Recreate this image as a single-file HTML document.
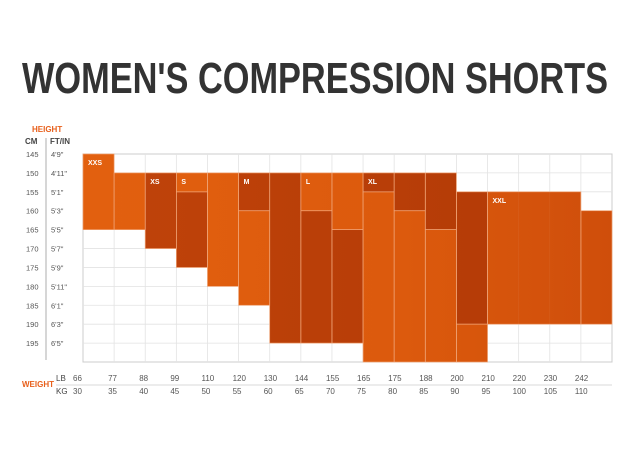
<!DOCTYPE html>
<html><head><meta charset="utf-8"><style>
html,body{margin:0;padding:0;background:#fff;width:640px;height:454px;overflow:hidden}
svg{display:block;font-family:"Liberation Sans",sans-serif}
</style></head><body>
<svg id="chart" width="640" height="454" viewBox="0 0 640 454">
<defs>
<linearGradient id="gO" gradientUnits="userSpaceOnUse" x1="83" y1="0" x2="612" y2="0"><stop offset="0" stop-color="#e2600f"/><stop offset="0.6" stop-color="#dc5a0d"/><stop offset="1" stop-color="#cf4e0b"/></linearGradient>
<linearGradient id="gD" gradientUnits="userSpaceOnUse" x1="83" y1="0" x2="612" y2="0"><stop offset="0" stop-color="#c0430a"/><stop offset="1" stop-color="#b23a06"/></linearGradient>
</defs>
<text x="22" y="93" font-size="44" font-weight="bold" fill="#333" textLength="586" lengthAdjust="spacingAndGlyphs">WOMEN'S COMPRESSION SHORTS</text>
<text x="32" y="132" font-size="8" font-weight="bold" fill="#e8601c">HEIGHT</text>
<text x="25" y="144" font-size="8" font-weight="bold" fill="#444">CM</text>
<text x="50" y="144" font-size="8" font-weight="bold" fill="#444">FT/IN</text>
<line x1="46" y1="138" x2="46" y2="360" stroke="#999" stroke-width="0.8"/>
<text x="22" y="387" font-size="8" font-weight="bold" fill="#e8601c">WEIGHT</text>
<text x="56" y="381" font-size="8" fill="#444">LB</text>
<text x="56" y="394" font-size="8" fill="#444">KG</text>
<line x1="56" y1="385" x2="612" y2="385" stroke="#ccc" stroke-width="0.8"/>
<g id="grid"></g><g id="blocks"></g><g id="cells"></g><g id="labels"></g>
</svg>
<script>
const cmLabels=["145","150","155","160","165","170","175","180","185","190","195"];
const ftLabels=["4'9\"","4'11\"","5'1\"","5'3\"","5'5\"","5'7\"","5'9\"","5'11\"","6'1\"","6'3\"","6'5\""];
const lbLabels=["66","77","88","99","110","120","130","144","155","165","175","188","200","210","220","230","242"];
const kgLabels=["30","35","40","45","50","55","60","65","70","75","80","85","90","95","100","105","110"];
const sizeNames=["XXS","XS","S","M","L","XL","XXL"];
const sizeShades=["O","D","O","D","O","D","O"];
// rects per size: [colStart, colEnd, rowStart, rowEnd]
const sizeXXS=[[0,1,0,4],[1,2,1,4]];
const sizeXS=[[2,3,1,5],[3,4,2,6]];
const sizeS=[[3,4,1,2],[4,5,1,7],[5,6,3,8]];
const sizeM=[[5,6,1,3],[6,7,1,10],[7,8,3,10],[8,9,4,10]];
const sizeL=[[7,8,1,3],[8,9,1,4],[9,10,2,11],[10,11,3,11],[11,12,4,11],[12,13,9,11]];
const sizeXL=[[9,10,1,2],[10,11,1,3],[11,12,1,4],[12,13,2,9]];
const sizeXXL=[[13,16,2,9],[16,17,3,9]];
const sizeRects=[sizeXXS,sizeXS,sizeS,sizeM,sizeL,sizeXL,sizeXXL];
const NS="http://www.w3.org/2000/svg";
const X0=83,X1=612,Y0=154,Y1=362;
const nC=lbLabels.length,nR=cmLabels.length;
const cx=i=>X0+i*(X1-X0)/nC, ry=i=>Y0+i*(Y1-Y0)/nR;
function mk(t,a,p){const e=document.createElementNS(NS,t);for(const k in a)e.setAttribute(k,a[k]);p.appendChild(e);return e;}
const grid=document.getElementById('grid'),blocks=document.getElementById('blocks'),cells=document.getElementById('cells'),labels=document.getElementById('labels');
mk('rect',{x:X0,y:Y0,width:X1-X0,height:Y1-Y0,fill:'#fff',stroke:'#ccc','stroke-width':1},grid);
for(let i=1;i<nC;i++)mk('line',{x1:cx(i),y1:Y0,x2:cx(i),y2:Y1,stroke:'#e2e2e2','stroke-width':0.8},grid);
for(let i=1;i<nR;i++)mk('line',{x1:X0,y1:ry(i),x2:X1,y2:ry(i),stroke:'#e2e2e2','stroke-width':0.8},grid);
sizeRects.forEach((rs,s)=>{
  rs.forEach(r=>{
    const e=mk('rect',{x:cx(r[0]),y:ry(r[2]),width:cx(r[1])-cx(r[0]),height:ry(r[3])-ry(r[2]),fill:'url(#g'+sizeShades[s]+')'},blocks);
    
    
    const o=mk('rect',{x:cx(r[0]),y:ry(r[2]),width:cx(r[1])-cx(r[0]),height:ry(r[3])-ry(r[2]),fill:'none',stroke:'#f0a070','stroke-width':0.7},cells);
    
    
  });
  const f=rs[0];
  const t=mk('text',{x:cx(f[0])+5,y:ry(f[2])+11,'font-size':7,'font-weight':'bold',fill:'#fff'},labels);
  t.textContent=sizeNames[s];
  
  
});
// faint inner cell lines over blocks
for(let i=1;i<nC;i++)mk('line',{x1:cx(i),y1:Y0,x2:cx(i),y2:Y1,stroke:'rgba(255,255,255,0.06)','stroke-width':0.8},cells);
cmLabels.forEach((v,i)=>{
  const y=ry(i)+3;
  const a=mk('text',{x:26,y:y,'font-size':7.5,fill:'#555'},labels);a.textContent=v;
  
  
  const b=mk('text',{x:51,y:y,'font-size':7.5,fill:'#555'},labels);b.textContent=ftLabels[i];
  
  
});
lbLabels.forEach((v,i)=>{
  const a=mk('text',{x:cx(i)-6+(i==0?-4:0),y:381,'font-size':8,fill:'#555'},labels);a.textContent=v;
  
  
  const b=mk('text',{x:cx(i)-6+(i==0?-4:0),y:394,'font-size':8,fill:'#555'},labels);b.textContent=kgLabels[i];
  
  
});
</script>
</body></html>
